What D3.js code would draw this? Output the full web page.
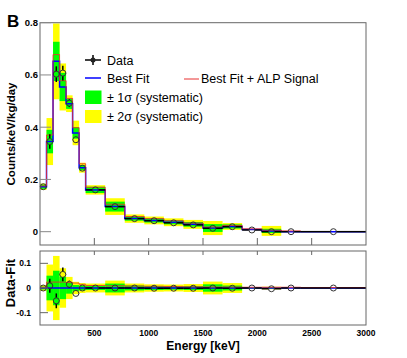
<!DOCTYPE html>
<html>
<head>
<meta charset="utf-8">
<script src="https://d3js.org/d3.v7.min.js"></script>
<style>
  body { margin:0; background:#fff; }
  svg { display:block; font-family:"Liberation Sans", Arial, Helvetica, sans-serif; }
</style>
</head>
<body>
<div id="chart"></div>
<script>
// energy bins (keV)
var binLo = [0, 60, 120, 180, 240, 300, 360, 420, 600, 780, 960, 1140, 1320, 1500, 1680, 1860, 2040, 2220, 2400];
var binHi = [60, 120, 180, 240, 300, 360, 420, 600, 780, 960, 1140, 1320, 1500, 1680, 1860, 2040, 2220, 2400, 3000];

// top panel: counts/keV/kg/day
var dataVal = [0.172, 0.345, 0.603, 0.607, 0.492, 0.352, 0.243, 0.160, 0.096, 0.050, 0.042, 0.034, 0.026, 0.013, 0.019, 0.0065, 0.0, 0.0, 0.0];
var dataErr = [0.006, 0.028, 0.030, 0.028, 0.015, 0.012, 0.008, 0.004, 0.004, 0.003, 0.003, 0.003, 0.003, 0.003, 0.003, 0.002, 0.002, 0.002, 0.001];
var fitVal  = [0.172, 0.345, 0.652, 0.554, 0.490, 0.378, 0.245, 0.160, 0.096, 0.050, 0.043, 0.036, 0.028, 0.014, 0.020, 0.008, 0.003, 0.0, 0.0];
var alpVal  = [0.175, 0.370, 0.678, 0.578, 0.510, 0.398, 0.260, 0.170, 0.105, 0.058, 0.050, 0.042, 0.033, 0.018, 0.024, 0.011, 0.006, 0.003];
var sig1    = [0.008, 0.045, 0.075, 0.054, 0.020, 0.022, 0.010, 0.012, 0.019, 0.008, 0.008, 0.008, 0.009, 0.015, 0.008, 0.0, 0.008, 0.0, 0.0];
var sig2    = [0.012, 0.090, 0.145, 0.090, 0.032, 0.047, 0.019, 0.018, 0.032, 0.016, 0.015, 0.015, 0.017, 0.027, 0.013, 0.002, 0.019, 0.0, 0.0];

// bottom panel: data - fit
var resid    = [0.0, 0.009, -0.052, 0.055, 0.015, -0.022, 0.0, 0.0, 0.0, 0.0, -0.001, -0.001, -0.001, 0.0, -0.001, 0.0, -0.003, 0.0, 0.0];
var residAlp = [0.003, 0.024, 0.024, 0.024, 0.022, 0.020, 0.015, 0.010, 0.009, 0.008, 0.007, 0.006, 0.005, 0.004, 0.004, 0.003, 0.003, 0.003, 0.002];
var resSig1  = [0.006, 0.050, 0.070, 0.045, 0.023, 0.012, 0.010, 0.008, 0.018, 0.010, 0.008, 0.007, 0.008, 0.015, 0.010, 0.002, 0.003, 0.0, 0.0];
var resSig2  = [0.012, 0.095, 0.130, 0.080, 0.045, 0.025, 0.020, 0.018, 0.030, 0.018, 0.015, 0.014, 0.016, 0.026, 0.020, 0.004, 0.005, 0.0, 0.0];

var xTicks = [500, 1000, 1500, 2000, 2500, 3000];
var yTicksTop = [0, 0.2, 0.4, 0.6, 0.8];
var yTicksBot = [-0.1, 0, 0.1];

var W = 407, H = 358;
var svg = d3.select("#chart").append("svg").attr("width", W).attr("height", H);
svg.append("rect").attr("width", W).attr("height", H).attr("fill", "#fff");

var x = d3.scaleLinear().domain([0, 3000]).range([40, 366]);
var yTop = d3.scaleLinear().domain([-0.051, 0.8]).range([245, 22.7]);
var yBot = d3.scaleLinear().domain([-0.15, 0.15]).range([325, 251]);

var frameCol = "#666";
var R = 3;

function stepPath(vals, y) {
  var pts = [];
  vals.forEach(function(v, i) { pts.push([x(binLo[i]), y(v)]); pts.push([x(binHi[i]), y(v)]); });
  return d3.line()(pts);
}

function drawPanel(g, y, center, s1, s2, fitArr, alpArr, dat) {
  // bands
  [[s2, "#ffff00"], [s1, "#00ff00"]].forEach(function(b) {
    g.selectAll(null).data(d3.range(binLo.length).filter(function(i) { return b[0][i] > 0; }))
      .enter().append("rect")
      .attr("x", function(i) { return x(binLo[i]); })
      .attr("width", function(i) { return x(binHi[i]) - x(binLo[i]); })
      .attr("y", function(i) { return y(center[i] + b[0][i]); })
      .attr("height", function(i) { return y(center[i] - b[0][i]) - y(center[i] + b[0][i]); })
      .attr("fill", b[1]);
  });
  g.append("path").attr("d", stepPath(fitArr, y)).attr("fill", "none").attr("stroke", "#0000ff").attr("stroke-width", 1.5);
  g.append("path").attr("d", stepPath(alpArr, y)).attr("fill", "none").attr("stroke", "#e83030").attr("stroke-width", 1).attr("stroke-opacity", 0.85);

  // data points with error bars, gap at the marker
  dat.forEach(function(v, i) {
    var cx = x((binLo[i] + binHi[i]) / 2), cy = y(v);
    var segs = [[x(binLo[i]), cy, cx - R, cy], [cx + R, cy, x(binHi[i]), cy]];
    var up = y(v + dataErr[i]), dn = y(v - dataErr[i]);
    if (cy - up > R) { segs.push([cx, up, cx, cy - R]); segs.push([cx, cy + R, cx, dn]); }
    segs.forEach(function(s) {
      g.append("line").attr("x1", s[0]).attr("y1", s[1]).attr("x2", s[2]).attr("y2", s[3])
        .attr("stroke", "#000").attr("stroke-width", 1.5);
    });
    g.append("circle").attr("cx", cx).attr("cy", cy).attr("r", R)
      .attr("fill", "none").attr("stroke", "#333").attr("stroke-width", 1);
  });
}

// top panel
var gTop = svg.append("g");
drawPanel(gTop, yTop, fitVal, sig1, sig2, fitVal, alpVal, dataVal);

// bottom panel
var zeros = fitVal.map(function() { return 0; });
var gBot = svg.append("g");
drawPanel(gBot, yBot, zeros, resSig1, resSig2, zeros, residAlp, resid);

// frames and ticks
function frame(y) {
  svg.append("rect").attr("x", x(0)).attr("y", y.range()[1])
    .attr("width", x(3000) - x(0)).attr("height", y.range()[0] - y.range()[1])
    .attr("fill", "none").attr("stroke", frameCol).attr("stroke-width", 1);
}
frame(yTop); frame(yBot);

yTicksTop.forEach(function(t) {
  svg.append("line").attr("x1", 40).attr("x2", 51).attr("y1", yTop(t)).attr("y2", yTop(t)).attr("stroke", "#888");
  svg.append("text").attr("x", 38).attr("y", yTop(t) + 3.5).attr("text-anchor", "end")
    .attr("font-size", 9.5).attr("font-weight", "bold").text(t === 0 ? "0" : t.toFixed(1));
});
yTicksBot.forEach(function(t) {
  svg.append("line").attr("x1", 40).attr("x2", 48).attr("y1", yBot(t)).attr("y2", yBot(t)).attr("stroke", "#666");
  svg.append("text").attr("x", 31).attr("y", yBot(t) + 3).attr("text-anchor", "end")
    .attr("font-size", 8.5).attr("font-weight", "bold").text(t === 0 ? "0" : t.toFixed(1));
});
xTicks.forEach(function(t) {
  if (t < 3000) {
    svg.append("line").attr("x1", x(t)).attr("x2", x(t)).attr("y1", 245).attr("y2", 238).attr("stroke", "#666");
    svg.append("line").attr("x1", x(t)).attr("x2", x(t)).attr("y1", 251).attr("y2", 255).attr("stroke", "#666");
  }
  svg.append("text").attr("x", x(t)).attr("y", 336).attr("text-anchor", "middle")
    .attr("font-size", 8.5).attr("font-weight", "bold").text(t);
});

// titles
svg.append("text").attr("x", 7).attr("y", 27).attr("font-size", 17).attr("font-weight", "bold").text("B");
svg.append("text").attr("transform", "translate(15,134) rotate(-90)").attr("text-anchor", "middle")
  .attr("font-size", 11.5).attr("font-weight", "bold").text("Counts/keV/kg/day");
svg.append("text").attr("transform", "translate(14.5,283) rotate(-90)").attr("text-anchor", "middle")
  .attr("font-size", 13).attr("font-weight", "bold").text("Data-Fit");
svg.append("text").attr("x", 203).attr("y", 349.5).attr("text-anchor", "middle")
  .attr("font-size", 12).attr("font-weight", "bold").text("Energy [keV]");

// legend
var lg = svg.append("g").attr("font-size", 12.5);
lg.append("line").attr("x1", 85).attr("x2", 101).attr("y1", 60).attr("y2", 60).attr("stroke", "#000").attr("stroke-width", 1.5);
lg.append("line").attr("x1", 93).attr("x2", 93).attr("y1", 55).attr("y2", 65).attr("stroke", "#000").attr("stroke-width", 1.5);
lg.append("circle").attr("cx", 93).attr("cy", 60).attr("r", 2.5).attr("fill", "#222");
lg.append("text").attr("x", 107).attr("y", 64.5).text("Data");
lg.append("line").attr("x1", 85).attr("x2", 101).attr("y1", 78).attr("y2", 78).attr("stroke", "#0000ff").attr("stroke-width", 1.5);
lg.append("text").attr("x", 107).attr("y", 82.5).text("Best Fit");
lg.append("line").attr("x1", 184).attr("x2", 199).attr("y1", 79).attr("y2", 79).attr("stroke", "#e83030").attr("stroke-width", 1);
lg.append("text").attr("x", 201).attr("y", 82.5).text("Best Fit + ALP Signal");
lg.append("rect").attr("x", 85).attr("y", 90.5).attr("width", 16.5).attr("height", 13.5).attr("fill", "#00ff00");
lg.append("text").attr("x", 107).attr("y", 101.5).text("\u00b1 1\u03c3 (systematic)");
lg.append("rect").attr("x", 85).attr("y", 110).attr("width", 16.5).attr("height", 13).attr("fill", "#ffff00");
lg.append("text").attr("x", 107).attr("y", 121).text("\u00b1 2\u03c3 (systematic)");
</script>
</body>
</html>
